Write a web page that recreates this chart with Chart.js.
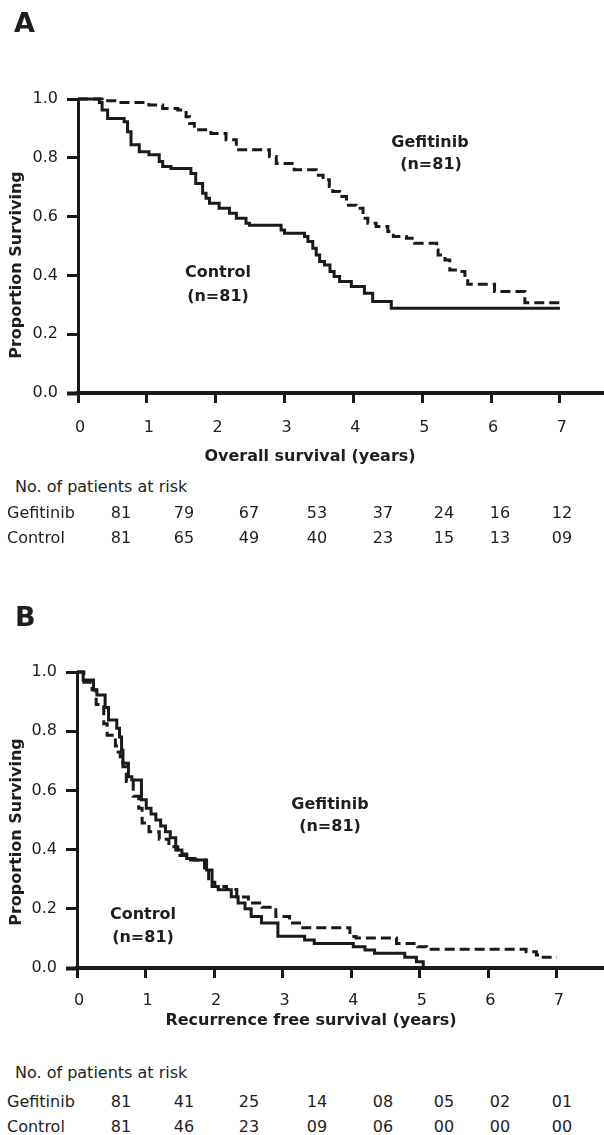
<!DOCTYPE html>
<html>
<head>
<meta charset="utf-8">
<script src="https://cdn.jsdelivr.net/npm/chart.js@4.4.1/dist/chart.umd.min.js"></script>
<style>
  html, body { margin: 0; padding: 0; background: #fff; }
  body { width: 604px; height: 1135px; position: relative; overflow: hidden; font-family: 'DejaVu Sans', sans-serif; color: #1e1e1e; }
  canvas { position: absolute; left: 0; }
  .t { position: absolute; font-size: 16px; line-height: 20px; white-space: nowrap; }
  .c { transform: translate(-50%, -50%); }
  .l { transform: translateY(-50%); }
  .letter { font-weight: bold; font-size: 27px; line-height: 30px; }
</style>
</head>
<body>
<canvas id="chartA" width="604" height="470" style="top:0"></canvas>
<canvas id="chartB" width="604" height="475" style="top:560px"></canvas>
<script>
const years = [0, 1, 2, 3, 4, 5, 6, 7];
const yTicks = [0, 0.2, 0.4, 0.6, 0.8, 1.0];

// A: overall survival (Kaplan-Meier steps, years / proportion)
const osGefTime = [0, 0.35, 0.57, 1.03, 1.23, 1.45, 1.57, 1.62, 1.69, 1.93, 2.15, 2.30, 2.78, 2.88, 3.14, 3.46, 3.56, 3.65, 3.70, 3.80, 3.90, 4.04, 4.14, 4.21, 4.33, 4.50, 4.58, 4.77, 4.89, 5.21, 5.23, 5.33, 5.40, 5.55, 5.62, 5.66, 6.05, 6.49, 7.0];
const osGefSurv = [1.0, 0.994, 0.988, 0.980, 0.968, 0.963, 0.940, 0.917, 0.895, 0.883, 0.861, 0.827, 0.804, 0.781, 0.759, 0.741, 0.725, 0.702, 0.685, 0.668, 0.639, 0.628, 0.594, 0.577, 0.566, 0.549, 0.532, 0.526, 0.509, 0.486, 0.469, 0.452, 0.418, 0.413, 0.390, 0.370, 0.345, 0.307, 0.307];
const osCtlTime = [0, 0.31, 0.35, 0.43, 0.67, 0.72, 0.77, 0.89, 1.03, 1.18, 1.23, 1.35, 1.64, 1.71, 1.81, 1.86, 1.91, 2.05, 2.20, 2.30, 2.44, 2.49, 2.95, 3.00, 3.29, 3.34, 3.41, 3.46, 3.51, 3.58, 3.66, 3.72, 3.80, 3.97, 4.16, 4.28, 4.55, 7.0];
const osCtlSurv = [1.0, 0.988, 0.963, 0.934, 0.923, 0.889, 0.844, 0.821, 0.810, 0.787, 0.770, 0.764, 0.747, 0.713, 0.679, 0.662, 0.645, 0.628, 0.611, 0.594, 0.577, 0.571, 0.554, 0.543, 0.532, 0.515, 0.492, 0.469, 0.447, 0.435, 0.413, 0.396, 0.379, 0.362, 0.339, 0.311, 0.288, 0.288];
const osRiskGef = ['81', '79', '67', '53', '37', '24', '16', '12'];
const osRiskCtl = ['81', '65', '49', '40', '23', '15', '13', '09'];

// B: recurrence free survival
const rfsGefTime = [0, 0.10, 0.22, 0.28, 0.39, 0.44, 0.56, 0.60, 0.63, 0.67, 0.72, 0.82, 0.90, 0.95, 1.05, 1.20, 1.34, 1.47, 1.60, 1.86, 1.92, 2.01, 2.18, 2.33, 2.50, 2.70, 2.90, 3.10, 3.27, 3.98, 4.07, 4.66, 4.97, 5.10, 6.55, 6.70, 6.80, 7.0];
const rfsGefSurv = [1.0, 0.965, 0.94, 0.89, 0.825, 0.786, 0.75, 0.73, 0.714, 0.68, 0.63, 0.58, 0.54, 0.49, 0.46, 0.435, 0.41, 0.38, 0.365, 0.33, 0.29, 0.275, 0.265, 0.24, 0.22, 0.205, 0.174, 0.152, 0.136, 0.106, 0.101, 0.083, 0.072, 0.063, 0.055, 0.044, 0.036, 0.036];
const rfsCtlTime = [0, 0.09, 0.24, 0.29, 0.41, 0.46, 0.58, 0.62, 0.65, 0.67, 0.75, 0.80, 0.94, 1.01, 1.08, 1.15, 1.22, 1.29, 1.36, 1.44, 1.53, 1.60, 1.72, 1.89, 1.97, 2.06, 2.25, 2.35, 2.45, 2.54, 2.69, 2.93, 3.32, 3.46, 4.03, 4.20, 4.34, 4.78, 4.95, 5.05];
const rfsCtlSurv = [1.0, 0.973, 0.939, 0.922, 0.88, 0.838, 0.81, 0.78, 0.736, 0.692, 0.646, 0.635, 0.568, 0.54, 0.52, 0.50, 0.48, 0.46, 0.44, 0.399, 0.385, 0.37, 0.365, 0.331, 0.275, 0.264, 0.241, 0.22, 0.20, 0.174, 0.152, 0.107, 0.095, 0.083, 0.072, 0.061, 0.050, 0.036, 0.021, 0.0];
const rfsRiskGef = ['81', '41', '25', '14', '08', '05', '02', '01'];
const rfsRiskCtl = ['81', '46', '23', '09', '06', '00', '00', '00'];

const INK = '#1a1a1a';
const TEXT = '#1e1e1e';
const FONT = 'DejaVu Sans';

// free text inside the canvas (axis titles, group labels)
const textPlugin = {
  id: 'panelText',
  afterDraw(chart, args, opts) {
    const ctx = chart.ctx;
    ctx.save();
    ctx.fillStyle = TEXT;
    ctx.textAlign = 'center';
    ctx.textBaseline = 'middle';
    (opts.items || []).forEach(it => {
      ctx.save();
      ctx.font = it.font || ('bold 16px ' + FONT);
      ctx.translate(it.x, it.y);
      if (it.rotate) ctx.rotate(it.rotate);
      ctx.fillText(it.text, 0, 0);
      ctx.restore();
    });
    ctx.restore();
  }
};

function steps(times, surv) {
  return times.map((t, i) => ({ x: t, y: surv[i] }));
}

function makeChart(id, gef, ctl, g) {
  return new Chart(document.getElementById(id), {
    type: 'line',
    data: {
      datasets: [
        { label: 'Gefitinib', data: gef, stepped: true, borderDash: [10, 5], borderColor: INK, borderWidth: 3, pointRadius: 0, fill: false, clip: false },
        { label: 'Control', data: ctl, stepped: true, borderColor: INK, borderWidth: 3, pointRadius: 0, fill: false, clip: false }
      ]
    },
    options: {
      responsive: false,
      animation: false,
      devicePixelRatio: 1,
      layout: { padding: { top: g.top, left: 0, right: 0, bottom: 0 } },
      plugins: {
        legend: { display: false },
        tooltip: { enabled: false },
        panelText: { items: g.texts }
      },
      scales: {
        x: {
          type: 'linear', min: 0, max: g.xMax,
          afterBuildTicks: s => { s.ticks = years.map(v => ({ value: v })); },
          afterFit: s => { s.height = g.xHeight; },
          border: { color: INK, width: 4 },
          grid: { drawOnChartArea: false, tickLength: 10, tickWidth: 3, tickColor: INK },
          ticks: { color: TEXT, font: { family: FONT, size: 16 }, padding: g.tickPad, maxRotation: 0, autoSkip: false, labelOffset: 2 }
        },
        y: {
          type: 'linear', min: 0, max: 1,
          afterBuildTicks: s => { s.ticks = yTicks.map(v => ({ value: v })); },
          afterFit: s => { s.width = g.left; },
          border: { color: INK, width: 3 },
          grid: { drawOnChartArea: false, tickLength: 11, tickWidth: c => (c.tick && c.tick.value === 0 ? 4 : 3), tickColor: INK },
          ticks: { color: TEXT, font: { family: FONT, size: 16 }, padding: 9, callback: v => v.toFixed(1) }
        }
      }
    },
    plugins: [textPlugin]
  });
}

makeChart('chartA', steps(osGefTime, osGefSurv), steps(osCtlTime, osCtlSurv), {
  top: 99, left: 78, xMax: 7.64, xHeight: 77, tickPad: 15,
  texts: [
    { text: 'Proportion Surviving', x: 17, y: 265, rotate: -Math.PI / 2 },
    { text: 'Overall survival (years)', x: 310, y: 457 },
    { text: 'Gefitinib', x: 430, y: 143 },
    { text: '(n=81)', x: 431, y: 165 },
    { text: 'Control', x: 218, y: 273 },
    { text: '(n=81)', x: 218, y: 297 }
  ]
});

makeChart('chartB', steps(rfsGefTime, rfsGefSurv), steps(rfsCtlTime, rfsCtlSurv), {
  top: 112, left: 77, xMax: 7.686, xHeight: 67, tickPad: 13,
  texts: [
    { text: 'Proportion Surviving', x: 17, y: 272, rotate: -Math.PI / 2 },
    { text: 'Recurrence free survival (years)', x: 311, y: 461 },
    { text: 'Gefitinib', x: 330, y: 245 },
    { text: '(n=81)', x: 330, y: 267 },
    { text: 'Control', x: 143, y: 355 },
    { text: '(n=81)', x: 143, y: 378 }
  ]
});

// panel letters and number-at-risk tables
const riskCols = [121, 184, 249, 317, 383, 444, 500, 562];
function addText(text, x, y, cls) {
  const d = document.createElement('div');
  d.className = 't ' + cls;
  d.textContent = text;
  d.style.left = x + 'px';
  d.style.top = y + 'px';
  document.body.appendChild(d);
}
function riskTable(top, rows) {
  addText('No. of patients at risk', 15, top.head, 'l');
  rows.forEach((r, i) => {
    addText(r.name, 7, top.rows[i], 'l');
    r.values.forEach((v, j) => addText(v, riskCols[j], top.rows[i], 'c'));
  });
}
addText('A', 14, 8, 'letter');
addText('B', 15, 602, 'letter');
riskTable({ head: 487, rows: [513, 538] }, [
  { name: 'Gefitinib', values: osRiskGef },
  { name: 'Control', values: osRiskCtl }
]);
riskTable({ head: 1073, rows: [1102, 1127] }, [
  { name: 'Gefitinib', values: rfsRiskGef },
  { name: 'Control', values: rfsRiskCtl }
]);
</script>
</body>
</html>
